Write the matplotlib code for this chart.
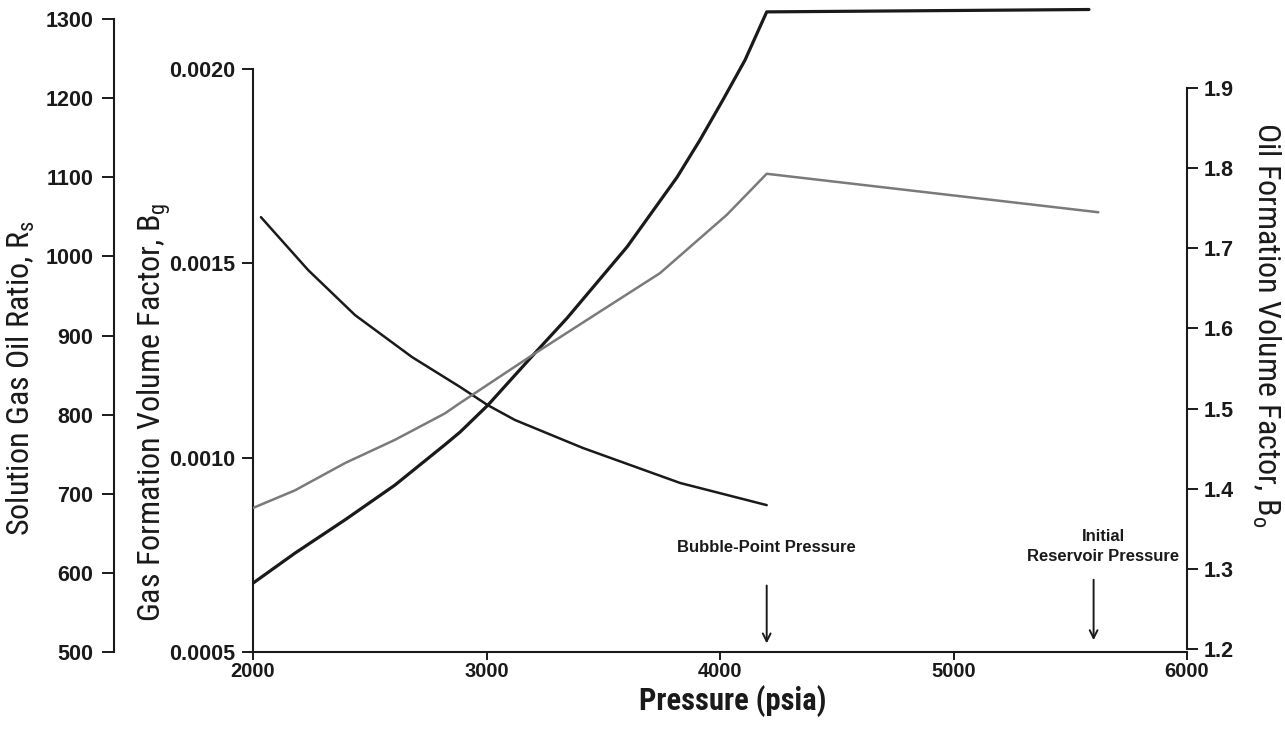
import matplotlib
matplotlib.use('Agg')
import matplotlib.pyplot as plt
from matplotlib import font_manager
from matplotlib.ticker import FormatStrFormatter

# pressure (psia) and the three PVT properties
p_rs = [2000, 2180, 2394, 2608, 2822, 2887, 3006, 3208, 3345, 3602, 3816, 3914, 4013, 4107, 4200, 5580]
rs = [587, 625, 667, 711, 762, 778, 812, 878, 922, 1012, 1100, 1147, 1198, 1248, 1309, 1312]

p_bo = [2000, 2180, 2394, 2608, 2822, 2887, 3208, 3443, 3743, 4030, 4200, 5620]
bo = [1.376, 1.398, 1.432, 1.461, 1.494, 1.507, 1.569, 1.613, 1.669, 1.742, 1.793, 1.745]

p_bg = [2034, 2236, 2437, 2681, 2887, 3006, 3122, 3413, 3829, 4200]
bg = [0.001619, 0.001483, 0.001367, 0.001259, 0.001182, 0.001135, 0.001097, 0.001025, 0.000935, 0.000878]

x_ticks = [2000, 3000, 4000, 5000, 6000]
rs_ticks = [500, 600, 700, 800, 900, 1000, 1100, 1200, 1300]
bg_ticks = [0.0005, 0.0010, 0.0015, 0.0020]
bo_ticks = [1.2, 1.3, 1.4, 1.5, 1.6, 1.7, 1.8, 1.9]

bubble_point = 4200
initial_pressure = 5600

# look for a narrow face for the titles, otherwise plain Liberation Sans
narrow, narrow_stretch, shrink = 'Liberation Sans', 'normal', 0.9
for f in font_manager.fontManager.ttflist:
    if f.name in ('Liberation Sans Narrow', 'Roboto Condensed', 'Open Sans Condensed'):
        narrow, shrink = f.name, 1.0
        break
    if f.name == 'DejaVu Sans' and f.stretch == 'condensed':
        narrow, narrow_stretch, shrink = 'DejaVu Sans', 'condensed', 0.95

plt.rcParams['font.family'] = ['Liberation Sans', 'DejaVu Sans']
plt.rcParams['mathtext.fontset'] = 'custom'

W, H = 1285, 741
fig = plt.figure(figsize=(W / 100, H / 100), dpi=100)
left, right, bottom, top = 253, 1187, 652, 5
ax = fig.add_axes([left / W, 1 - bottom / H, (right - left) / W, (bottom - top) / H])
ax.patch.set_alpha(0)

ax_rs = ax.twinx()
ax_bo = ax.twinx()

ink = '#1a1a1a'
ax.plot(p_bg, bg, color=ink, lw=1.8, solid_capstyle='round', solid_joinstyle='round')
ax_rs.plot(p_rs, rs, color=ink, lw=2.3, solid_capstyle='round', solid_joinstyle='round')
ax_bo.plot(p_bo, bo, color='#7a7a7a', lw=1.8, solid_capstyle='round', solid_joinstyle='round')

ax.set_xlim(2000, 6000)
ax.set_ylim(0.0005, 0.002165)
ax_rs.set_ylim(500, 1317.7)
ax_bo.set_ylim(1.19626, 2.0036)

for a in (ax, ax_rs, ax_bo):
    for s in a.spines.values():
        s.set_visible(False)
        s.set_linewidth(1.5)
        s.set_color(ink)

ax.spines['left'].set_visible(True)
ax.spines['left'].set_bounds(0.0005, 0.0020)
ax.spines['bottom'].set_visible(True)
ax.set_xticks(x_ticks)
ax.set_yticks(bg_ticks)
ax.yaxis.set_major_formatter(FormatStrFormatter('%.4f'))
ax.tick_params(axis='y', direction='out', length=8, width=1.4, pad=5, labelsize=15.5, colors=ink)
ax.tick_params(axis='x', direction='out', length=6, width=1.4, pad=1.5, labelsize=14.5, colors=ink)
for t in ax.get_yticklabels() + ax.get_xticklabels():
    t.set_fontweight('bold')

ax_rs.spines['left'].set_visible(True)
ax_rs.spines['left'].set_position(('axes', -0.1488))
ax_rs.spines['left'].set_bounds(500, 1300)
ax_rs.yaxis.set_ticks_position('left')
ax_rs.set_yticks(rs_ticks)
ax_rs.tick_params(axis='y', direction='out', length=9, width=1.4, pad=6, labelsize=15.5, colors=ink)
for t in ax_rs.get_yticklabels():
    t.set_fontweight('bold')

ax_bo.spines['right'].set_visible(True)
ax_bo.spines['right'].set_bounds(1.2, 1.9)
ax_bo.set_yticks(bo_ticks)
ax_bo.yaxis.set_major_formatter(FormatStrFormatter('%.1f'))
ax_bo.tick_params(axis='y', direction='out', length=8, width=1.4, pad=4, labelsize=15.5, colors=ink)
for t in ax_bo.get_yticklabels():
    t.set_fontweight('bold')

# arrows marking the two pressures
arrow = dict(arrowstyle='->', color=ink, lw=1.4, mutation_scale=14)
ax.annotate('', xy=(bubble_point, 0.009), xytext=(bubble_point, 0.107),
            xycoords=('data', 'axes fraction'), textcoords=('data', 'axes fraction'),
            arrowprops=arrow)
ax.annotate('', xy=(initial_pressure, 0.014), xytext=(initial_pressure, 0.116),
            xycoords=('data', 'axes fraction'), textcoords=('data', 'axes fraction'),
            arrowprops=arrow)
ax.text(bubble_point, 0.161, 'Bubble-Point Pressure', transform=ax.get_xaxis_transform(),
        ha='center', va='center', fontsize=12, fontweight='bold', color=ink)
ax.text(initial_pressure + 40, 0.163, 'Initial\nReservoir Pressure', transform=ax.get_xaxis_transform(),
        ha='center', va='center', fontsize=12, fontweight='bold', color=ink, linespacing=1.35)

# axis titles
title_kw = dict(ha='center', va='center', family=narrow, fontstretch=narrow_stretch, color=ink)
fig.text(21 / W, 1 - 378 / H, r'Solution Gas Oil Ratio, R$_\mathregular{s}$', rotation=90,
         fontsize=23 * shrink, **title_kw)
fig.text(155 / W, 1 - 412 / H, r'Gas Formation Volume Factor, B$_\mathregular{g}$', rotation=90,
         fontsize=23 * shrink, **title_kw)
fig.text(1266 / W, 1 - 325 / H, r'Oil Formation Volume Factor, B$_\mathregular{o}$', rotation=270,
         fontsize=23 * shrink, **title_kw)
fig.text(733 / W, 1 - 701 / H, 'Pressure (psia)', fontsize=22 * shrink, fontweight='bold', **title_kw)

fig.savefig('out.png', dpi=100)
